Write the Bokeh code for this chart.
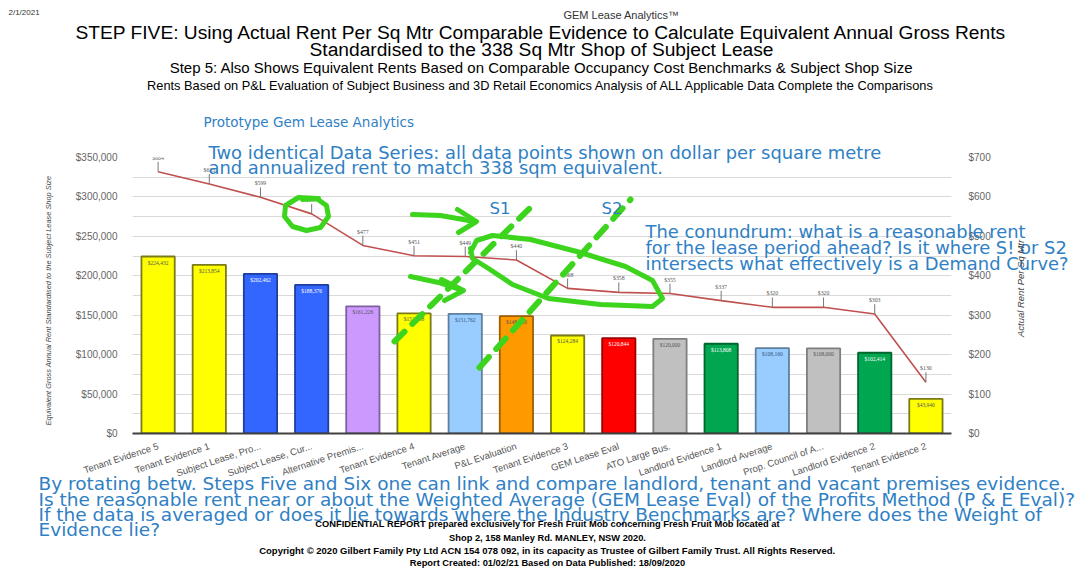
from bokeh.plotting import figure
from bokeh.models import (FactorRange, Range1d, LinearAxis, SingleIntervalTicker,
                          ColumnDataSource, LabelSet, Label, NumeralTickFormatter)
from bokeh.embed import file_html
from bokeh.resources import INLINE

# ---------------- data ----------------
categories = ["Tenant Evidence 5", "Tenant Evidence 1", "Subject Lease, Pro...",
              "Subject Lease, Cur...", "Alternative Premis...", "Tenant Evidence 4",
              "Tenant Average", "P&L Evaluation", "Tenant Evidence 3", "GEM Lease Eval",
              "ATO Large Bus.", "Landlord Evidence 1", "Landlord Average",
              "Prop. Council of A...", "Landlord Evidence 2", "Tenant Evidence 2"]
annual_rent = [224432, 213854, 202462, 188376, 161226, 152438, 151762, 148720,
               124284, 120844, 120000, 113808, 108160, 108000, 102414, 43940]
rent_per_sqm = [664, 633, 599, 557, 477, 451, 449, 440,
                368, 358, 355, 337, 320, 320, 303, 130]
bar_fill = ["#ffff00", "#ffff00", "#3366ff", "#3366ff", "#cc99ff", "#ffff00",
            "#99ccff", "#ff9900", "#ffff00", "#ff0000", "#c0c0c0", "#00a650",
            "#99ccff", "#c0c0c0", "#00a650", "#ffff00"]
bar_edge = ["#7a7a1a", "#7a7a1a", "#1f3f9f", "#1f3f9f", "#7f5f9f", "#7a7a1a",
            "#5f7f9f", "#9f5f00", "#7a7a1a", "#9f0000", "#7f7f7f", "#006630",
            "#5f7f9f", "#7f7f7f", "#006630", "#7a7a1a"]
bar_text = ["#555555", "#555555", "#ffffff", "#ffffff", "#555555", "#555555",
            "#335577", "#555555", "#555555", "#ffffff", "#555555", "#ffffff",
            "#335577", "#555555", "#ffffff", "#555555"]

# frame geometry (canvas px)
FL, FR, FT, FB = 132, 951, 157, 433
W, H = 1088, 570

src = ColumnDataSource(dict(
    cat=categories, rent=annual_rent, sqm=rent_per_sqm,
    sqm_top=[v + 25 for v in rent_per_sqm],
    rent_label=["${:,}".format(v) for v in annual_rent],
    sqm_label=["${}".format(v) for v in rent_per_sqm],
    fill=bar_fill, edge=bar_edge, txt=bar_text))

p = figure(width=W, height=H, x_range=FactorRange(factors=categories),
           y_range=Range1d(0, 350000), output_backend="svg", toolbar_location=None,
           min_border_left=FL, min_border_right=W - FR, min_border_top=FT,
           min_border_bottom=H - FB)
p.extra_y_ranges = {"right": Range1d(0, 700)}
p.outline_line_color = None
p.xgrid.grid_line_color = None
p.ygrid.grid_line_color = "#d9d9d9"
p.ygrid.minor_grid_line_color = "#d9d9d9"

ya = p.yaxis[0]
ya.ticker = SingleIntervalTicker(interval=50000, num_minor_ticks=2)
ya.formatter = NumeralTickFormatter(format="$0,0")
ya.axis_line_color = None
ya.major_tick_line_color = None
ya.minor_tick_line_color = None
ya.major_label_text_font = "Liberation Sans"
ya.major_label_text_font_size = "10px"
ya.major_label_text_color = "#666666"
ya.major_label_standoff = 9

ra = LinearAxis(y_range_name="right", ticker=SingleIntervalTicker(interval=100),
                formatter=NumeralTickFormatter(format="$0"))
ra.axis_line_color = None
ra.major_tick_line_color = None
ra.minor_tick_line_color = None
ra.major_label_text_font = "Liberation Sans"
ra.major_label_text_font_size = "10px"
ra.major_label_text_color = "#666666"
ra.major_label_standoff = 11
p.add_layout(ra, "right")

xa = p.xaxis[0]
xa.axis_line_color = "#404040"
xa.axis_line_width = 2
xa.major_tick_line_color = None
xa.minor_tick_line_color = None
xa.major_label_orientation = 0.32
xa.major_label_text_font = "Liberation Sans"
xa.major_label_text_font_size = "9.5px"
xa.major_label_text_color = "#555555"
xa.major_label_standoff = 6

p.vbar(x="cat", top="rent", width=0.65, fill_color="fill", line_color="edge",
       line_width=1.8, source=src)
p.add_layout(LabelSet(x="cat", y="rent", text="rent_label", y_offset=-3,
                      text_align="center", text_baseline="top", text_font_size="5.5px",
                      text_color="txt", text_font="Liberation Sans", source=src))

p.line(x="cat", y="sqm", y_range_name="right", line_color="#c0504d", line_width=1.6,
       source=src)
p.segment(x0="cat", y0="sqm", x1="cat", y1="sqm_top", y_range_name="right",
          line_color="#777777", line_width=1, source=src)
p.add_layout(LabelSet(x="cat", y="sqm_top", text="sqm_label", y_range_name="right",
                      y_offset=1, text_align="center", text_baseline="bottom",
                      text_font_size="5.8px", text_color="#555555",
                      text_font="Liberation Sans", source=src))

# ---------------- overlay (canvas coordinates, y downwards) ----------------
q = figure(width=W, height=H, x_range=Range1d(0, W), y_range=Range1d(H, 0),
           output_backend="svg", toolbar_location=None, x_axis_type=None,
           y_axis_type=None, min_border=0)
q.grid.visible = False
q.outline_line_color = None
q.background_fill_alpha = 0
q.border_fill_alpha = 0
q.styles = {"position": "absolute", "left": "0px", "top": "0px"}

GREEN = "#3dd41e"
def stroke(pts, dash="solid", w=5):
    q.line([a for a, b in pts], [b for a, b in pts], line_color=GREEN,
           line_width=w, line_cap="round", line_join="round", line_dash=dash)

circle_pts = [(318, 198), (298, 197), (285, 205), (284, 216), (292, 226), (306, 230),
              (320, 227), (328, 216), (326, 205), (316, 198), (302, 199)]
stroke(circle_pts)
stroke([(412, 214), (440, 215), (474, 221)])
stroke([(457, 209), (476, 221), (458, 232)])
stroke([(410, 276), (438, 282), (462, 290)])
stroke([(441, 279), (463, 290), (444, 300)])
stroke([(394, 341), (531, 206)], dash="14 11", w=6)
stroke([(479, 367), (630, 199)], dash="14 11", w=6)
loop_pts = [(470, 252), (476, 240), (492, 235), (530, 239), (580, 252), (625, 266),
            (652, 280), (662, 298), (652, 306), (600, 304), (548, 298), (512, 284),
            (488, 268), (472, 258), (470, 248)]
stroke(loop_pts)

def lab(text, X, Y, size, color="#000000", font="Liberation Sans", align="left",
        style="normal", angle=0.0, baseline="middle"):
    q.add_layout(Label(x=X, y=Y, text=text, text_font_size=f"{size}px",
                       text_color=color, text_font=font, text_align=align,
                       text_baseline=baseline, text_font_style=style, angle=angle))

BLUE = "#2f80c4"
BF = "DejaVu Sans"
BS = 17.9
BB = 18.5
lab("2/1/2021", 8, 12, 8, "#333333")
lab("GEM Lease Analytics\u2122", 621, 14, 11, "#333333", align="center")
lab("STEP FIVE: Using Actual Rent Per Sq Mtr Comparable Evidence to Calculate Equivalent Annual Gross Rents",
    541, 32, 19.2, align="center")
lab("Standardised to the 338 Sq Mtr Shop of Subject Lease", 541, 49, 19.2, align="center")
lab("Step 5: Also Shows Equivalent Rents Based on Comparable Occupancy Cost Benchmarks & Subject Shop Size",
    541, 67, 15, align="center")
lab("Rents Based on P&L Evaluation of Subject Business and 3D Retail Economics Analysis of ALL Applicable Data Complete the Comparisons",
    541, 85, 12.8, align="center")
lab("Prototype Gem Lease Analytics", 203, 121, 13.5, BLUE, font=BF)

lab("Two identical Data Series: all data points shown on dollar per square metre",
    208, 152, BS, BLUE, font=BF)
lab("and annualized rent to match 338 sqm equivalent.", 208, 167, BS, BLUE, font=BF)
lab("S1", 489, 208, 16.5, BLUE, font=BF)
lab("S2", 601, 208, 16.5, BLUE, font=BF)
lab("The conundrum: what is a reasonable rent", 645, 231, BS, BLUE, font=BF)
lab("for the lease period ahead? Is it where S! or S2", 645, 247, BS, BLUE, font=BF)
lab("intersects what effectively is a Demand Curve?", 645, 263, BS, BLUE, font=BF)

lab("By rotating betw. Steps Five and Six one can link and compare landlord, tenant and vacant premises evidence.",
    38, 482.5, BB, BLUE, font=BF)
lab("Is the reasonable rent near or about the Weighted Average (GEM Lease Eval) of the Profits Method (P & E Eval)?",
    38, 498.5, BB, BLUE, font=BF)
lab("If the data is averaged or does it lie towards where the Industry Benchmarks are? Where does the Weight of",
    38, 514, BB, BLUE, font=BF)
lab("Evidence lie?", 38, 529, BB, BLUE, font=BF)

lab("CONFIDENTIAL REPORT prepared exclusively for Fresh Fruit Mob concerning Fresh Fruit Mob located at",
    547, 523, 9.3, align="center", style="bold")
lab("Shop 2, 158 Manley Rd. MANLEY, NSW 2020.", 547, 537, 9.3, align="center", style="bold")
lab("Copyright \u00a9 2020 Gilbert Family Pty Ltd ACN 154 078 092, in its capacity as Trustee of Gilbert Family Trust. All Rights Reserved.",
    547, 550, 9.5, align="center", style="bold")
lab("Report Created: 01/02/21 Based on Data Published: 18/09/2020", 547, 562, 9.3,
    align="center", style="bold")

lab("Equivalent Gross Annual Rent Standardised to the Subject Lease Shop Size",
    48, 300, 7.4, "#444444", style="italic", align="center", angle=1.5708)
lab("Actual Rent Per Sq Mtr", 1020, 288, 9.5, "#444444", style="italic", align="center",
    angle=1.5708)

open("out.html", "w").write(file_html([p, q], INLINE))
